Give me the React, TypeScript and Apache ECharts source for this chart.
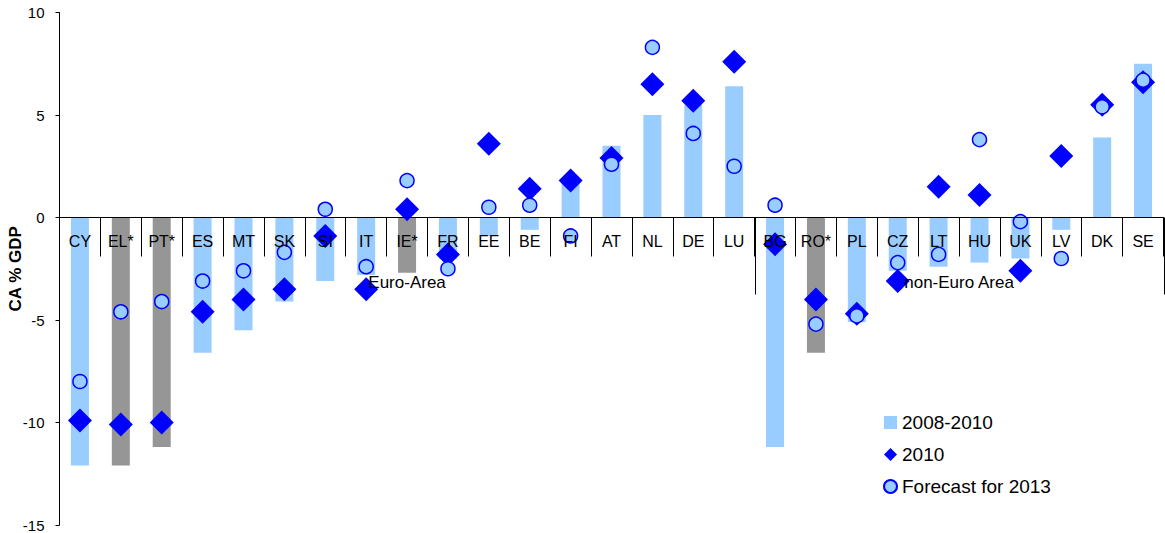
import React, { useEffect, useRef } from "react";
import * as echarts from "echarts";

const categories = ["CY", "EL*", "PT*", "ES", "MT", "SK", "SI", "IT", "IE*", "FR", "EE", "BE", "FI", "AT", "NL", "DE", "LU", "BG", "RO*", "PL", "CZ", "LT", "HU", "UK", "LV", "DK", "SE"];
const greyCategories = ["EL*", "PT*", "IE*", "RO*"];
const avg2008to2010 = [-12.1, -12.1, -11.2, -6.6, -5.5, -4.1, -3.1, -2.8, -2.7, -2.0, -0.9, -0.6, 1.7, 3.5, 5.0, 5.5, 6.4, -11.2, -6.6, -5.1, -2.6, -2.4, -2.2, -2.0, -0.6, 3.9, 7.5];
const ca2010 = [-9.9, -10.1, -10.0, -4.6, -4.0, -3.5, -0.9, -3.5, 0.4, -1.8, 3.6, 1.4, 1.8, 2.9, 6.5, 5.7, 7.6, -1.3, -4.0, -4.7, -3.1, 1.5, 1.1, -2.6, 3.0, 5.5, 6.6];
const forecast2013 = [-8.0, -4.6, -4.1, -3.1, -2.6, -1.7, 0.4, -2.4, 1.8, -2.5, 0.5, 0.6, -0.9, 2.6, 8.3, 4.1, 2.5, 0.6, -5.2, -4.8, -2.2, -1.8, 3.8, -0.2, -2.0, 5.4, 6.7];
const groupNames = ["Euro-Area", "non-Euro Area"];
const groupFirst = ["CY", "BG"];
const groupLast = ["LU", "SE"];
const yTicks = [-15, -10, -5, 0, 5, 10];

const FONT = "'Liberation Sans', Arial, sans-serif";
const LIGHT = "#99CCFF";
const GREY = "#969696";
const BLUE = "#0000FF";

const GRID_TOP = 12.5;
const GRID_BOTTOM = 8;
const HEIGHT = 533;

export default function App() {
  const ref = useRef<HTMLDivElement>(null);
  useEffect(() => {
    if (!ref.current) return;
    const chart = echarts.init(ref.current, null, { renderer: "svg" });
    const yMin = yTicks[0];
    const yMax = yTicks[yTicks.length - 1];
    const plotH = HEIGHT - GRID_TOP - GRID_BOTTOM;
    const zeroOffset = -(plotH * (0 - yMin)) / (yMax - yMin);
    chart.setOption({
      animation: false,
      backgroundColor: "#ffffff",
      textStyle: { fontFamily: FONT, color: "#000" },
      grid: {
        left: 59.5,
        right: 1.5,
        top: GRID_TOP,
        bottom: GRID_BOTTOM,
        containLabel: false,
        outerBoundsMode: "none",
      },
      legend: {
        orient: "vertical",
        left: 883,
        top: 413,
        itemWidth: 13,
        itemHeight: 13,
        itemGap: 13,
        padding: 0,
        textStyle: { fontSize: 19, color: "#000", fontFamily: FONT },
        data: [
          { name: "2008-2010", icon: "rect" },
          { name: "2010", icon: "diamond" },
          { name: "Forecast for 2013", icon: "circle" },
        ],
      },
      xAxis: {
        type: "category",
        data: categories,
        position: "bottom",
        offset: zeroOffset,
        axisLine: { onZero: false, lineStyle: { color: "#000", width: 1 } },
        axisTick: { show: true, interval: 0, length: 39, lineStyle: { color: "#000" } },
        axisLabel: { interval: 0, margin: 16, fontSize: 16, color: "#000", fontFamily: FONT },
        splitLine: { show: false },
        z: 10,
      },
      yAxis: {
        type: "value",
        min: yMin,
        max: yMax,
        interval: 5,
        name: "CA % GDP",
        nameLocation: "middle",
        nameRotate: 90,
        nameGap: 36,
        nameMoveOverlap: false,
        nameTextStyle: { fontSize: 17, fontWeight: "bold", color: "#000", fontFamily: FONT },
        axisLine: { show: true, lineStyle: { color: "#000", width: 1 } },
        axisTick: { show: true, length: 4, lineStyle: { color: "#000" } },
        axisLabel: { fontSize: 15, lineHeight: 12, color: "#000", margin: 15, fontFamily: FONT },
        splitLine: { show: false },
      },
      series: [
        {
          name: "2008-2010",
          type: "bar",
          barWidth: 18,
          itemStyle: { color: LIGHT },
          data: avg2008to2010.map((v, i) =>
            greyCategories.includes(categories[i]) ? { value: v, itemStyle: { color: GREY } } : v
          ),
          z: 2,
        },
        {
          name: "2010",
          type: "scatter",
          symbol: "diamond",
          symbolSize: 24,
          itemStyle: { color: BLUE, opacity: 1 },
          data: ca2010,
          z: 3,
        },
        {
          name: "Forecast for 2013",
          type: "scatter",
          symbol: "circle",
          symbolSize: 14,
          itemStyle: { color: LIGHT, borderColor: BLUE, borderWidth: 1.5, opacity: 1 },
          data: forecast2013,
          z: 4,
        },
      ],
    });

    const px = (c: string) => chart.convertToPixel({ xAxisIndex: 0 }, c) as number;
    const band = px(categories[1]) - px(categories[0]);
    const y0 = chart.convertToPixel({ yAxisIndex: 0 }, 0) as number;
    const graphics: any[] = [];
    groupNames.forEach((name, g) => {
      const xa = px(groupFirst[g]);
      const xb = px(groupLast[g]);
      const xEnd = Math.round(xb + band / 2) + 0.5;
      graphics.push({
        type: "line",
        shape: { x1: xEnd, y1: y0, x2: xEnd, y2: y0 + 77 },
        style: { stroke: "#000", lineWidth: 1 },
        z: 10,
      });
      graphics.push({
        type: "text",
        x: (xa + xb) / 2,
        y: y0 + 65,
        style: {
          text: name,
          fontSize: 17,
          fontFamily: FONT,
          fill: "#000",
          align: "center",
          verticalAlign: "middle",
        },
        z: 10,
      });
    });
    chart.setOption({ graphic: graphics });

    return () => chart.dispose();
  }, []);
  return (
    <div
      ref={ref}
      style={{ position: "fixed", left: 0, top: 0, width: 1165, height: HEIGHT, background: "#fff" }}
    />
  );
}
